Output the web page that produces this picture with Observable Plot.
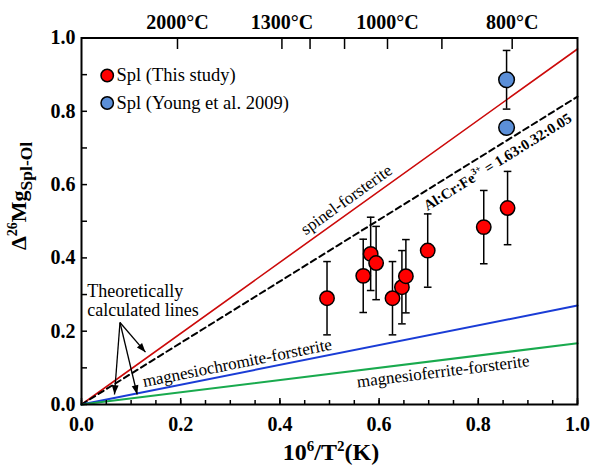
<!DOCTYPE html>
<html><head><meta charset="utf-8">
<script src="https://cdn.jsdelivr.net/npm/d3@7"></script>
<script src="https://cdn.jsdelivr.net/npm/@observablehq/plot@0.6"></script>
<style>
html,body{margin:0;padding:0;background:#fff;}
#chart{width:593px;height:466px;}
svg{display:block;}
</style></head><body><div id="chart"></div>
<script>
// ---- data ----
const lineNames = ["spinel-forsterite", "Al:Cr:Fe3+ = 1.63:0.32:0.05", "magnesiochromite-forsterite", "magnesioferrite-forsterite"];
const lineSlopes = [0.97, 0.84, 0.27, 0.167];

const seriesNames = ["Spl (This study)", "Spl (Young et al. 2009)"];
const thisX = [0.495, 0.568, 0.583, 0.594, 0.627, 0.646, 0.654, 0.698, 0.811, 0.859];
const thisY = [0.290, 0.351, 0.411, 0.386, 0.290, 0.320, 0.350, 0.420, 0.484, 0.536];
const thisErr = [0.10, 0.10, 0.10, 0.10, 0.10, 0.10, 0.10, 0.10, 0.10, 0.10];
const youngX = [0.857, 0.857];
const youngY = [0.886, 0.756];
const youngErr = [0.08, 0];

const xTickLabels = [0, 0.2, 0.4, 0.6, 0.8, 1.0];
const xMinorTicks = d3.range(0, 1.0001, 0.05);
const yTickLabels = [0, 0.2, 0.4, 0.6, 0.8, 1.0];
const yMinorTicks = [0.1, 0.3, 0.5, 0.7, 0.9];
const tempTicksC = [2000, 1300, 1200, 1100, 1000, 900, 800];
const tempLabelsC = [2000, 1300, 1000, 800];

// ---- layout ----
const W = 593, H = 466;
const mL = 81, mR = 16, mT = 37.5, mB = 62;
const pW = W - mL - mR, pH = H - mT - mB;
const FONT = "Liberation Serif, Times New Roman, serif";

const toX = (tC) => 1e6 / Math.pow(tC + 273.15, 2);
const lineData = lineNames.map((n, i) => [{x: 0, y: 0}, {x: 1, y: lineSlopes[i]}]);
const angle = (s) => -Math.atan(s * pH / pW) * 180 / Math.PI;

const thisData = thisX.map((x, i) => ({x, y: thisY[i], e: thisErr[i]}));
const youngData = youngX.map((x, i) => ({x, y: youngY[i], e: youngErr[i]}));
const allData = thisData.concat(youngData);

const capSymbol = {draw(ctx, size) { const w = Math.sqrt(size / Math.PI); ctx.moveTo(-w, 0); ctx.lineTo(w, 0); }};
const headSymbol = {draw(ctx, size) { const r = Math.sqrt(size / Math.PI); ctx.moveTo(0, 0); ctx.lineTo(-0.85 * r, 2.3 * r); ctx.lineTo(0.85 * r, 2.3 * r); ctx.closePath(); }};

const lineColors = ["#cc0a0a", "#000000", "#1a3cd6", "#19aa4e"];
const lineDash = [null, "6,4", null, null];
const lineWidth = [1.6, 2, 2, 2];

// label placement along lines: x position and vertical offset (px)
const labelAt = [0.534, 0.84, 0.314, 0.729];
const labelDy = [-15, 16.5, -10.5, 11.5];

const marks = [];
lineData.forEach((d, i) => {
  marks.push(Plot.line(d, {x: "x", y: "y", stroke: lineColors[i], strokeWidth: lineWidth[i], strokeDasharray: lineDash[i]}));
});
// line labels
[0, 2, 3].forEach(i => {
  marks.push(Plot.text([lineNames[i]], {
    x: () => labelAt[i], y: () => labelAt[i] * lineSlopes[i], text: d => d,
    rotate: angle(lineSlopes[i]), dy: labelDy[i], fontSize: 17, fill: "black", lineAnchor: "middle"
  }));
});

// ticks
marks.push(Plot.tickX(xMinorTicks, {x: d => d, insetTop: pH - 4, stroke: "black", strokeWidth: 1.5}));
marks.push(Plot.tickX(xTickLabels, {x: d => d, insetTop: pH - 6, stroke: "black", strokeWidth: 1.5}));
marks.push(Plot.tickY(yTickLabels.concat(yMinorTicks), {y: d => d, insetRight: pW - 6, stroke: "black", strokeWidth: 1.5}));
marks.push(Plot.tickX(tempTicksC, {x: toX, insetBottom: pH - 11.5, stroke: "black", strokeWidth: 1.5}));
marks.push(Plot.text(tempLabelsC, {x: toX, text: t => `${t}°C`, frameAnchor: "top", dy: -15, lineAnchor: "middle", fontSize: 20, fontWeight: "bold"}));

marks.push(Plot.axisX({ticks: xTickLabels, tickSize: 0, tickPadding: 12, tickFormat: d3.format(".1f"), fontSize: 20, fontWeight: "bold", label: null}));
marks.push(Plot.axisY({ticks: yTickLabels, tickSize: 0, tickPadding: 6, tickFormat: d3.format(".1f"), fontSize: 20, fontWeight: "bold", label: null}));

// error bars and points
const withErr = allData.filter(d => d.e > 0);
marks.push(Plot.ruleX(withErr, {x: "x", y1: d => d.y - d.e, y2: d => d.y + d.e, stroke: "black", strokeWidth: 1.5}));
marks.push(Plot.dot(withErr, {x: "x", y: d => d.y + d.e, symbol: capSymbol, r: 3.8, stroke: "black", strokeWidth: 1.5}));
marks.push(Plot.dot(withErr, {x: "x", y: d => d.y - d.e, symbol: capSymbol, r: 3.8, stroke: "black", strokeWidth: 1.5}));
marks.push(Plot.dot(thisData, {x: "x", y: "y", r: 7.2, fill: "#ff0000", stroke: "black", strokeWidth: 1.5}));
marks.push(Plot.dot(youngData, {x: "x", y: "y", r: 7.8, fill: "#5b8fd8", stroke: "black", strokeWidth: 1.5}));

// legend
const legendFill = ["#ff0000", "#5b8fd8"];
seriesNames.forEach((s, i) => {
  marks.push(Plot.dot([s], {frameAnchor: "top-left", dx: 25.7, dy: 37.5 + i * 27.5, r: 6.2, fill: legendFill[i], stroke: "black", strokeWidth: 1.5}));
  marks.push(Plot.text([s], {frameAnchor: "top-left", dx: 35, dy: 37.5 + i * 27.5, text: d => d, textAnchor: "start", lineAnchor: "middle", fontSize: 18.5}));
});

// annotation "Theoretically calculated lines" with arrows
const annoText = ["Theoretically\ncalculated lines"];
const arrowFrom = {x: 0.0776, y: 0.2237};
const arrowTo = [{x: 0.129, y: 0.1427}, {x: 0.0665, y: 0.0273}, {x: 0.1123, y: 0.0273}];
const arrowRot = (d) => Math.atan2((d.x - arrowFrom.x) * pW, (d.y - arrowFrom.y) * pH) * 180 / Math.PI;
marks.push(Plot.text(annoText, {x: () => 0.0115, y: () => 0.2838, text: d => d, textAnchor: "start", lineAnchor: "middle", fontSize: 18, lineHeight: 1.02}));
marks.push(Plot.link(arrowTo, {x1: () => arrowFrom.x, y1: () => arrowFrom.y, x2: "x", y2: "y", stroke: "black", strokeWidth: 1.3}));
marks.push(Plot.dot(arrowTo, {x: "x", y: "y", symbol: headSymbol, r: 4, fill: "black", stroke: "none", rotate: arrowRot}));

marks.push(Plot.frame({stroke: "black", strokeWidth: 2}));

const chart = Plot.plot({
  width: W, height: H,
  marginLeft: mL, marginRight: mR, marginTop: mT, marginBottom: mB,
  style: {fontFamily: FONT, background: "white", color: "black"},
  x: {domain: [0, 1]},
  y: {domain: [0, 1]},
  marks
});
document.getElementById("chart").appendChild(chart);

const svg = d3.select(chart);
// dashed line label with superscript
{
  const s = lineSlopes[1], xa = labelAt[1];
  const px = mL + xa * pW, py = mT + (1 - xa * s) * pH + labelDy[1];
  const t = svg.append("text")
    .attr("transform", `translate(${px},${py}) rotate(${angle(s)})`)
    .attr("text-anchor", "middle").attr("dy", "0.32em")
    .attr("font-family", FONT).attr("font-weight", "bold").attr("font-size", 14.8).attr("fill", "black");
  t.append("tspan").text("Al:Cr:Fe");
  t.append("tspan").attr("font-size", 9.5).attr("dy", -6).text("3+");
  t.append("tspan").attr("dy", 6).text(" = 1.63:0.32:0.05");
}
// x-axis title
{
  const t = svg.append("text")
    .attr("x", mL + pW / 2 + 2).attr("y", 460)
    .attr("text-anchor", "middle")
    .attr("font-family", FONT).attr("font-weight", "bold").attr("font-size", 24).attr("fill", "black");
  t.append("tspan").text("10");
  t.append("tspan").attr("font-size", 15).attr("dy", -9).text("6");
  t.append("tspan").attr("dy", 9).text("/T");
  t.append("tspan").attr("font-size", 15).attr("dy", -9).text("2");
  t.append("tspan").attr("dy", 9).text("(K)");
}
// y-axis title
{
  const t = svg.append("text")
    .attr("transform", "translate(26,250) rotate(-90)")
    .attr("text-anchor", "start")
    .attr("font-family", FONT).attr("font-weight", "bold").attr("font-size", 22).attr("fill", "black");
  t.append("tspan").text("Δ");
  t.append("tspan").attr("font-size", 14).attr("dy", -9).text("26");
  t.append("tspan").attr("dy", 9).text("Mg");
  t.append("tspan").attr("font-size", 17.5).attr("dy", 6).text("Spl-Ol");
}
</script></body></html>
